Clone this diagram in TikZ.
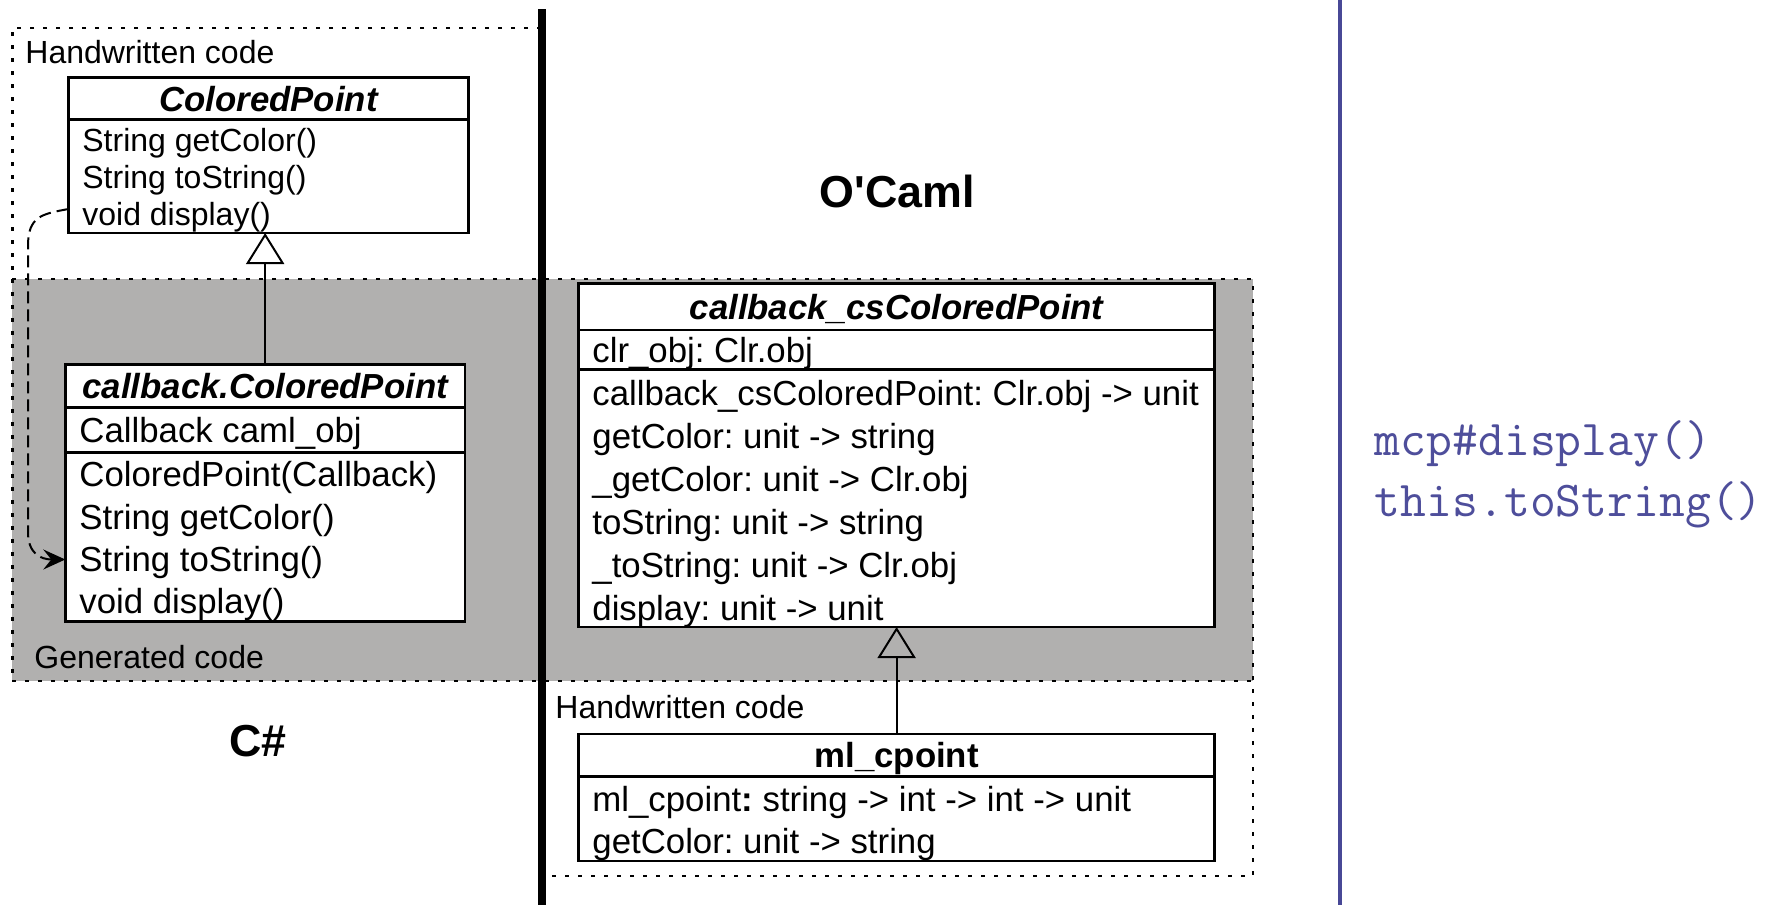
\documentclass[tikz,border=0pt]{standalone}
\usepackage{fontspec}
\setmainfont{Liberation Sans}
\usetikzlibrary{arrows.meta}
\definecolor{gen}{RGB}{177,176,175}
\definecolor{ink}{RGB}{72,72,150}
\definecolor{codeblue}{RGB}{78,78,155}
\frenchspacing
\begin{document}
\begin{tikzpicture}[x=0.5pt,y=-0.5pt,
  classbox/.style={draw=black, line width=1.3pt, fill=white, inner sep=0pt, outer sep=0pt},
  txt/.style={anchor=base west, inner sep=0pt, font=\fontsize{17.4}{20}\selectfont},
  smalltxt/.style={anchor=base west, inner sep=0pt, font=\fontsize{16}{19}\selectfont},
  ttl/.style={anchor=base, inner sep=0pt, font=\fontsize{17.4}{20}\selectfont\bfseries\itshape},
  region/.style={line width=1.2pt, dash pattern=on 2pt off 4.5pt},
  sep/.style={line width=1.3pt},
  inherit/.style={line width=1pt, -{Triangle[open, width=19pt, length=15.5pt]}},
  calls/.style={line width=1pt, dash pattern=on 6pt off 3pt, -{Stealth[length=11pt, width=10pt, inset=4pt]}},
  lang/.style={inner sep=0pt, anchor=base, font=\fontsize{22.4}{26}\selectfont\bfseries},
  code/.style={anchor=base west, inner sep=0pt, text=codeblue, font=\ttfamily\fontsize{25.1}{29}\selectfont},
]
\useasboundingbox (0,0) rectangle (1765,905);
\fill[white] (0,0) rectangle (1765,905);

% regions
\fill[gen] (12.4,279) rectangle (1253,681);
\draw[region] (541,28) -- (12.4,28) -- (12.4,681);
\draw[region] (12.4,279) -- (1253,279) -- (1253,876) -- (541,876);
\draw[region] (12.4,681) -- (1253,681);

% separators of the page
\draw[line width=4pt] (541.5,9) -- (541.5,905);
\draw[ink, line width=2pt] (1340,0) -- (1340,905);

% region labels
\node[smalltxt] (hw1) at (25,63.5) {Handwritten code};
\node[smalltxt] (gen1) at (34,668) {Generated code};
\node[smalltxt] (hw2) at (555,718) {Handwritten code};
\node[lang] (csharp) at (258,756) {C\#};
\node[lang] (ocaml) at (897,207.5) {O\textquotesingle Caml};

% ColoredPoint
\node[classbox, minimum width=200pt, minimum height=77.65pt] (cp) at (268.4,155.35) {};
\draw[sep] (cp.west |- 0,119.3) -- (cp.east |- 0,119.3);
\node[ttl] (cpt) at (268.4,111) {ColoredPoint};
\node[smalltxt] (cp1) at (82,151.5) {String getColor()};
\node[smalltxt] (cp2) at (82,188.5) {String toString()};
\node[smalltxt] (cp3) at (82,225.5) {void display()};

% callback.ColoredPoint
\node[classbox, minimum width=199.85pt, minimum height=128.35pt] (cbcp) at (265.15,493.05) {};
\draw[sep] (cbcp.west |- 0,407.5) -- (cbcp.east |- 0,407.5);
\draw[sep] (cbcp.west |- 0,452.5) -- (cbcp.east |- 0,452.5);
\node[ttl] (cbcpt) at (265.15,398.5) {callback.ColoredPoint};
\node[txt] (cb1) at (79,442.5) {Callback caml\_obj};
\node[txt] (cb2) at (79,486.5) {ColoredPoint(Callback)};
\node[txt] (cb3) at (79,529) {String getColor()};
\node[txt] (cb4) at (79,571.5) {String toString()};
\node[txt] (cb5) at (79,613.5) {void display()};

% callback_csColoredPoint
\node[classbox, minimum width=318pt, minimum height=171.65pt] (cs) at (896.6,455.35) {};
\draw[sep] (cs.west |- 0,329.8) -- (cs.east |- 0,329.8);
\draw[sep] (cs.west |- 0,369.2) -- (cs.east |- 0,369.2);
\node[ttl] (cst) at (896.6,319.3) {callback\_csColoredPoint};
\node[txt] (cs0) at (592,362.5) {clr\_obj: Clr.obj};
\node[txt] (cs1) at (592,405.5) {callback\_csColoredPoint: Clr.obj -> unit};
\node[txt] (cs2) at (592,448.5) {getColor: unit -> string};
\node[txt] (cs3) at (592,491.5) {\_getColor: unit -> Clr.obj};
\node[txt] (cs4) at (592,534.5) {toString: unit -> string};
\node[txt] (cs5) at (592,577.5) {\_toString: unit -> Clr.obj};
\node[txt] (cs6) at (592,620.5) {display: unit -> unit};

% ml_cpoint
\node[classbox, minimum width=318pt, minimum height=63.5pt] (ml) at (896.6,797.5) {};
\draw[sep] (ml.west |- 0,776.7) -- (ml.east |- 0,776.7);
\node[anchor=base, inner sep=0pt, font=\fontsize{17.4}{20}\selectfont\bfseries] (mlt) at (896.6,767.5) {ml\_cpoint};
\node[txt] (ml1) at (592,811) {ml\_cpoint\textbf{:} string -> int -> int -> unit};
\node[txt] (ml2) at (592,853.5) {getColor: unit -> string};

% inheritance
\draw[inherit] (cbcp.north) -- (cbcp.north |- cp.south);
\draw[inherit] (ml.north) -- (cs.south);

% call
\coordinate (dstart) at (cp.west |- 0,209);
\coordinate (dend) at (cbcp.west |- 0,559.5);
\draw[calls] (dstart) .. controls (42,214) and (28,216) .. (28,246) -- (28,532) .. controls (28,553) and (40,559.5) .. (dend);

% code
\node[code] (c1) at (1374.5,455) {mcp\#display()};
\node[code] (c2) at (1374.5,516) {this.toString()};
\end{tikzpicture}
\end{document}
